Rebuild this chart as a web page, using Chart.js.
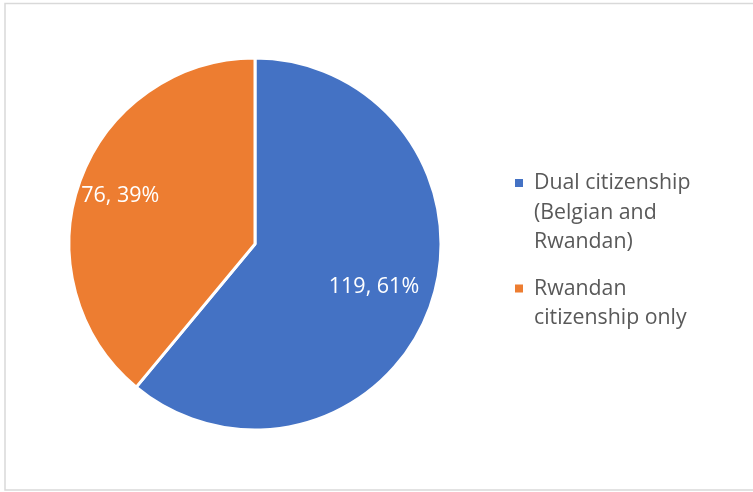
<!DOCTYPE html>
<html>
<head>
<meta charset="utf-8">
<script src="https://cdn.jsdelivr.net/npm/chart.js@4"></script>
<style>
    html, body { margin: 0; padding: 0; background: #fff; }
    #wrap { width: 753px; height: 492px; }
</style>
</head>
<body>
<div id="wrap"><canvas id="chart" width="753" height="492"></canvas></div>
<script>
const categories = [
    ['Dual citizenship', '(Belgian and', 'Rwandan)'],
    ['Rwandan', 'citizenship only']
];
const counts = [119, 76];
const colors = ['#4472C4', '#ED7D31'];

const FONT = '"Open Sans", "Noto Sans", sans-serif';

// frame round the chart area
const frame = {
    id: 'frame',
    beforeDraw(chart) {
        const ctx = chart.ctx;
        ctx.save();
        ctx.fillStyle = '#fff';
        ctx.fillRect(0, 0, chart.width, chart.height);
        ctx.strokeStyle = '#d9d9d9';
        ctx.lineWidth = 1.5;
        ctx.strokeRect(5, 3.5, chart.width + 10, 486.5);
        ctx.restore();
    }
};

// "value, percent" labels inside each slice
const sliceLabels = {
    id: 'sliceLabels',
    afterDatasetsDraw(chart) {
        const ctx = chart.ctx;
        const meta = chart.getDatasetMeta(0);
        const data = chart.data.datasets[0].data;
        const total = data.reduce((a, b) => a + b, 0);
        const ratio = [0.68, 0.77];
        ctx.save();
        ctx.fillStyle = '#fff';
        ctx.font = '21.5px ' + FONT;
        ctx.textAlign = 'center';
        ctx.textBaseline = 'middle';
        meta.data.forEach((arc, i) => {
            const mid = (arc.startAngle + arc.endAngle) / 2;
            const r = arc.outerRadius * ratio[i];
            const x = arc.x + Math.cos(mid) * r;
            const y = arc.y + Math.sin(mid) * r;
            const pct = Math.round(data[i] / total * 100);
            ctx.fillText(data[i] + ', ' + pct + '%', x, y);
        });
        ctx.restore();
    }
};

// legend with wrapped lines on the right
const sideLegend = {
    id: 'sideLegend',
    afterDraw(chart) {
        const ctx = chart.ctx;
        const lineH = 29.5;
        let y = 183;
        ctx.save();
        ctx.font = '21.3px ' + FONT;
        ctx.textBaseline = 'middle';
        ctx.textAlign = 'left';
        chart.data.labels.forEach((lines, i) => {
            ctx.fillStyle = colors[i];
            ctx.fillRect(515, y - 4, 8, 8);
            ctx.fillStyle = '#595959';
            lines.forEach((line, j) => {
                ctx.fillText(line, 534, y + j * lineH);
            });
            y += lines.length * lineH + 17;
        });
        ctx.restore();
    }
};

new Chart(document.getElementById('chart'), {
    type: 'pie',
    data: {
        labels: categories,
        datasets: [{
            data: counts,
            backgroundColor: colors,
            borderColor: '#fff',
            borderWidth: 3,
            hoverOffset: 0
        }]
    },
    options: {
        responsive: false,
        animation: false,
        radius: 186,
        layout: { padding: { left: 60, right: 303, top: 50, bottom: 54 } },
        plugins: {
            legend: { display: false },
            tooltip: { enabled: false }
        }
    },
    plugins: [frame, sliceLabels, sideLegend]
});
</script>
</body>
</html>
